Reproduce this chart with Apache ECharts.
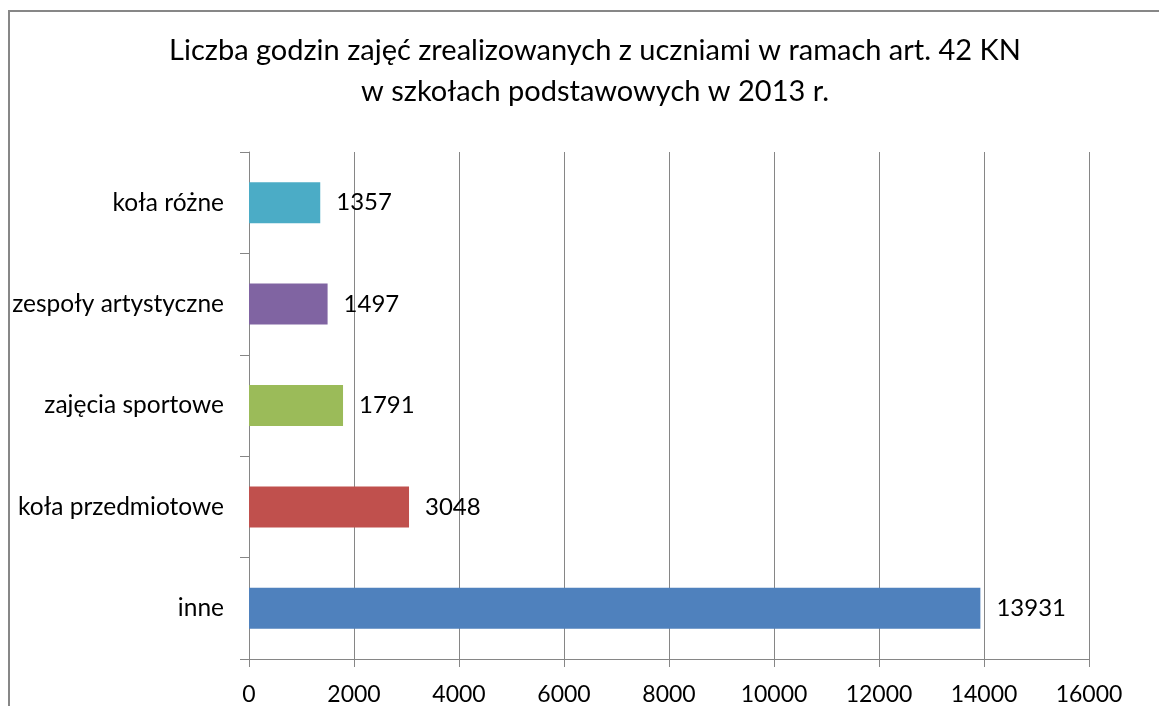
<!DOCTYPE html>
<html><head><meta charset="utf-8">
<script src="https://cdn.jsdelivr.net/npm/echarts@6/dist/echarts.min.js"></script>
<style>html,body{margin:0;padding:0;background:#fff}#c{width:1159px;height:706px}</style>
</head><body><div id="c"></div>
<script>
const categories = ['inne', 'koła przedmiotowe', 'zajęcia sportowe', 'zespoły artystyczne', 'koła różne'];
const values = [13931, 3048, 1791, 1497, 1357];
const colors = ['#4F81BD', '#C0504D', '#9BBB59', '#8064A2', '#4BACC6'];
const xTicks = [0, 2000, 4000, 6000, 8000, 10000, 12000, 14000, 16000];
const titleLines = ['Liczba godzin zajęć zrealizowanych z uczniami w ramach art. 42 KN', 'w szkołach podstawowych w 2013 r.'];

const FONT = 'Lato';
const chart = echarts.init(document.getElementById('c'), null, {renderer: 'canvas'});
chart.setOption({
  backgroundColor: '#fff',
  animation: false,
  title: {
    text: titleLines.join('\n'),
    left: 590, top: 25, textAlign: 'center',
    textStyle: {fontFamily: FONT, fontSize: 29, fontWeight: 'normal', color: '#000', lineHeight: 41}
  },
  graphic: [{
    type: 'rect', silent: true,
    shape: {x: 9, y: 11, width: 1300, height: 900},
    style: {fill: 'none', stroke: '#878787', lineWidth: 2}
  }],
  grid: {left: 249, right: 70, top: 152, bottom: 45},
  xAxis: {
    type: 'value', min: 0, max: 16000, interval: 2000,
    axisLine: {show: true, lineStyle: {color: '#868686'}},
    axisTick: {show: true, length: 8, lineStyle: {color: '#868686'}},
    splitLine: {show: true, lineStyle: {color: '#868686', width: 1}},
    axisLabel: {fontFamily: FONT, fontSize: 23, color: '#000', margin: 24,
      formatter: v => xTicks.includes(v) ? String(v) : ''}
  },
  yAxis: {
    type: 'category', data: categories,
    axisLine: {show: true, lineStyle: {color: '#868686'}},
    axisTick: {show: true, length: 9, lineStyle: {color: '#868686'}},
    axisLabel: {fontFamily: FONT, fontSize: 24.5, color: '#000', margin: 25}
  },
  series: [{
    type: 'bar',
    data: values.map((v, i) => ({value: v, itemStyle: {color: colors[i]}})),
    barWidth: 41,
    label: {show: true, position: 'right', distance: 16, fontFamily: FONT, fontSize: 24, color: '#000'}
  }]
});
</script></body></html>
